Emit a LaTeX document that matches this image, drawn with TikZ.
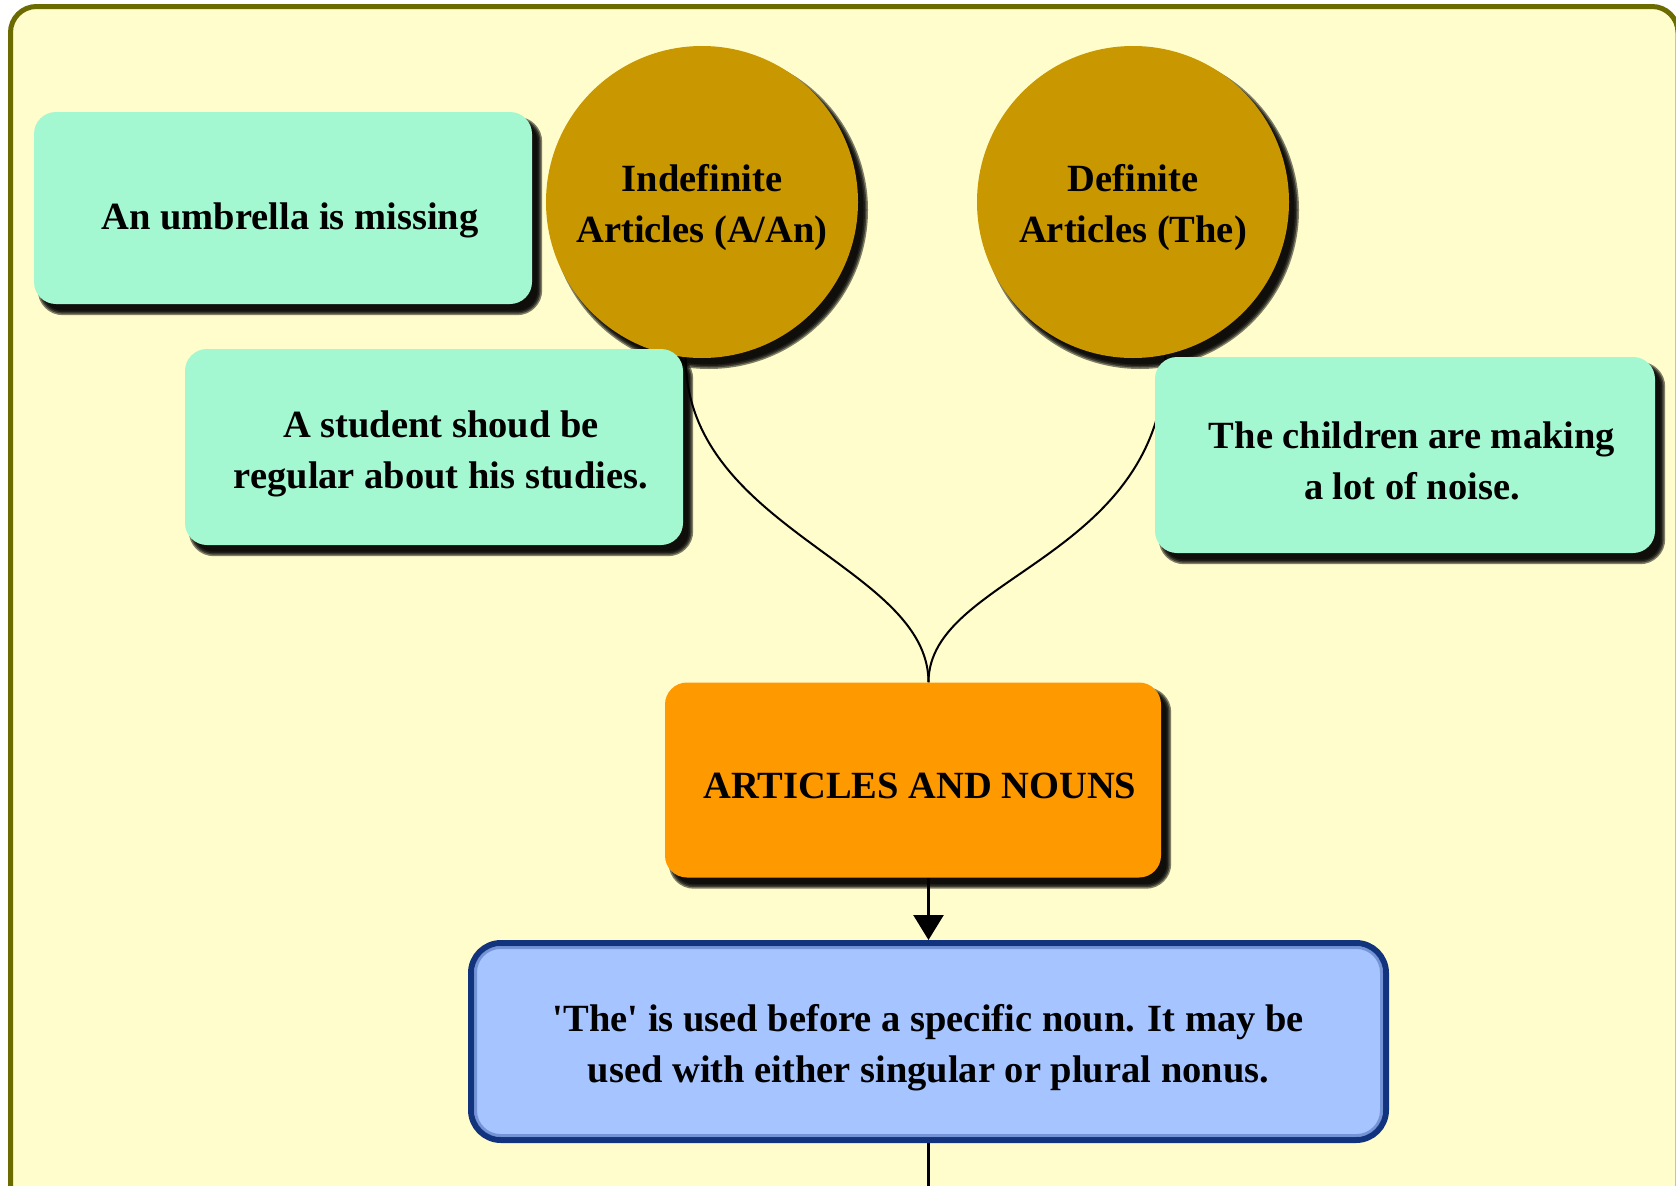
\documentclass[tikz,border=0pt]{standalone}
\usepackage{fontspec}
\setmainfont{Liberation Serif}[Ligatures=TeXOff]
\usetikzlibrary{arrows.meta,calc}
\definecolor{bgyellow}{HTML}{FFFDCC}
\definecolor{frameol}{HTML}{6B6B00}
\definecolor{mint}{HTML}{A3F7D1}
\definecolor{gold}{HTML}{C99700}
\definecolor{orng}{HTML}{FF9900}
\definecolor{lblue}{HTML}{A6C4FF}
\definecolor{navy}{HTML}{12347F}
\pgfdeclarelayer{bg}
\pgfdeclarelayer{edges}
\pgfdeclarelayer{shade}
\pgfsetlayers{bg,edges,shade,main}
% soft shadow of a rounded box node: #1 node name, #2 corner radius
\newcommand\mkboxshd[2]{%
  \begin{pgfonlayer}{shade}
  \foreach \k in {3,1.5,0,-1.5}{%
    \fill[black, opacity=0.5, rounded corners={(#2+\k)*1pt}]
      ($(#1.north west)+(7-\k,8-\k)$) rectangle ($(#1.south east)+(7+\k,8+\k)$);
  }%
  \end{pgfonlayer}}
% soft shadow of a disc node: #1 node name, #2 radius
\newcommand\mkdiscshd[2]{%
  \begin{pgfonlayer}{shade}
  \foreach \k in {3,1.5,0,-1.5}{%
    \fill[black, opacity=0.5] ($(#1.center)+(7,8)$) circle[radius=#2+\k];
  }%
  \end{pgfonlayer}}
\newcommand\up[1]{\rule{0pt}{#1pt}}
\newcommand\rs{\hspace*{14pt}}
\begin{document}
\begin{tikzpicture}[x=1pt,y=-1pt,
  txt/.style={font=\fontsize{38.5}{51}\selectfont\bfseries, align=center, text=black},
  box/.style={txt, rectangle, rounded corners=22pt, inner sep=0pt},
  disc/.style={txt, circle, inner sep=0pt, minimum size=312pt, fill=gold},
  conn/.style={line width=2pt, black},
  arr/.style={line width=2.5pt, black}
]
\useasboundingbox (0,0) rectangle (1676,1186);
\begin{pgfonlayer}{bg}
  \fill[white] (0,0) rectangle (1676,1186);
  \draw[frameol, line width=5pt, fill=bgyellow, rounded corners=26pt] (10.5,6.5) rectangle (1678,1300);
\end{pgfonlayer}

\node[box, fill=mint, minimum width=498pt, minimum height=192pt] (b1) at (283,208) {\rs\up{52}An umbrella is missing};
\node[disc] (c1) at (702,202) {\up{39}Indefinite\\Articles (A/An)};
\node[disc] (c2) at (1133,202) {\up{39}Definite\\Articles (The)};
\node[box, fill=mint, minimum width=498pt, minimum height=196pt] (b2) at (434,447) {\rs\up{40}A student shoud be\\\rs regular about his studies.};
\node[box, fill=mint, minimum width=500pt, minimum height=196pt] (b3) at (1405,455) {\rs\up{38}The children are making\\\rs a lot of noise.};
\node[box, fill=orng, minimum width=496pt, minimum height=195pt] (b4) at (913,780) {\rs\up{38}ARTICLES AND NOUNS};
\node[txt, rectangle, rounded corners=30pt, fill=lblue, draw=navy, line width=6pt, minimum width=915pt, minimum height=197pt] (b5) at (928.5,1041.5) {\up{39}'The' is used before a specific noun. It may be\\used with either singular or plural nonus.};
\draw[navy!55!lblue, line width=3pt, rounded corners=25pt, opacity=0.6] ($(b5.north west)+(7.5,7.5)$) rectangle ($(b5.south east)+(-7.5,-7.5)$);
\coordinate (bend) at (928.5,1210);

\mkboxshd{b1}{22}
\mkboxshd{b2}{22}
\mkboxshd{b3}{22}
\mkboxshd{b4}{22}
\mkdiscshd{c1}{156}
\mkdiscshd{c2}{156}

\begin{pgfonlayer}{edges}
  \draw[conn] (c1.-96) .. controls +(0,172) and +(0,-117) .. (b4.north -| b5.north);
  \draw[conn] (c2.-78) .. controls +(0,205) and +(0,-108) .. (b4.north -| b5.north);
  \draw[arr, -{Triangle[width=30pt,length=25pt]}] (b4.south -| b5.north) -- (b5.north);
  \draw[arr] (b5.south) -- (bend);
\end{pgfonlayer}
\end{tikzpicture}
\end{document}
